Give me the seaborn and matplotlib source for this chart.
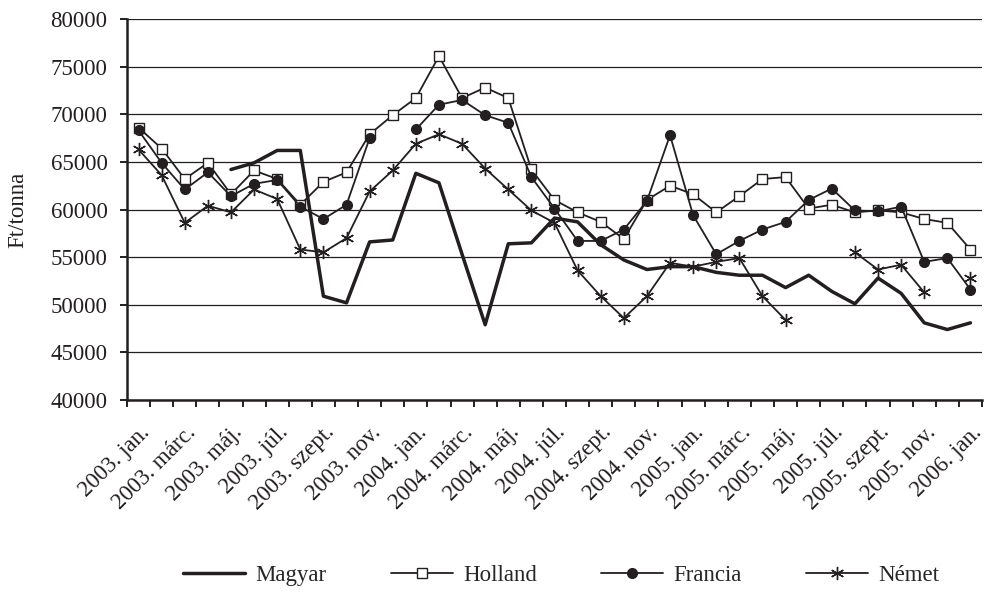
import numpy as np
import pandas as pd
import matplotlib
matplotlib.use("Agg")
import matplotlib.pyplot as plt
import matplotlib.transforms as mtransforms
from matplotlib.lines import Line2D
import seaborn as sns

nan = np.nan

# 37 months: 2003. jan. ... 2006. jan.
months = ["2003. jan.", "2003. febr.", "2003. márc.", "2003. ápr.", "2003. máj.", "2003. jún.",
          "2003. júl.", "2003. aug.", "2003. szept.", "2003. okt.", "2003. nov.", "2003. dec.",
          "2004. jan.", "2004. febr.", "2004. márc.", "2004. ápr.", "2004. máj.", "2004. jún.",
          "2004. júl.", "2004. aug.", "2004. szept.", "2004. okt.", "2004. nov.", "2004. dec.",
          "2005. jan.", "2005. febr.", "2005. márc.", "2005. ápr.", "2005. máj.", "2005. jún.",
          "2005. júl.", "2005. aug.", "2005. szept.", "2005. okt.", "2005. nov.", "2005. dec.",
          "2006. jan."]

magyar = [nan, nan, nan, nan, 64200, 64900, 66200, 66200, 50900, 50200, 56600, 56800,
          63800, 62800, 55300, 47900, 56400, 56500, 59100, 58700, 56300, 54700, 53700, 54000,
          54000, 53400, 53100, 53100, 51800, 53100, 51400, 50100, 52800, 51200, 48100, 47400,
          48100]
holland = [68600, 66400, 63200, 64900, 61600, 64100, 63200, 60500, 62900, 63900, 67900, 69900,
           71700, 76100, 71700, 72800, 71700, 64200, 61000, 59700, 58700, 56900, 61000, 62500,
           61600, 59700, 61400, 63200, 63400, 60100, 60500, 59700, 59900, 59700, 59000, 58600,
           55800]
francia = [68300, 64900, 62100, 63900, 61400, 62700, 63100, 60300, 59000, 60500, 67500, nan,
           68400, 71000, 71500, 69900, 69100, 63400, 60100, 56700, 56700, 57900, 60900, 67800,
           59400, 55300, 56700, 57900, 58700, 61000, 62200, 59900, 59800, 60300, 54500, 54900,
           51600]
nemet = [66300, 63600, 58600, 60400, 59700, 62100, 61100, 55800, 55500, 57000, 61900, 64100,
         66900, 67900, 66900, 64300, 62100, 59900, 58600, 53600, 50900, 48600, 50900, 54400,
         54000, 54500, 54900, 50900, 48400, nan, nan, 55500, 53700, 54200, 51300, nan,
         52800]

series_names = ["Magyar", "Holland", "Francia", "Német"]
series_values = [magyar, holland, francia, nemet]

rows = []
for name, vals in zip(series_names, series_values):
    seg = 0
    prev_nan = True
    for i, v in enumerate(vals):
        if np.isnan(v):
            prev_nan = True
            continue
        if prev_nan:
            seg += 1
            prev_nan = False
        rows.append({"x": i, "value": v, "series": name, "seg": seg})
df = pd.DataFrame(rows)

sns.set_style("ticks")
plt.rcParams["font.family"] = ["Liberation Serif", "DejaVu Serif"]
FS = 16.5
plt.rcParams["font.size"] = FS

ink = "#231f20"
styles = {
    "Magyar": dict(lw=2.5, marker=None),
    "Holland": dict(lw=1.3, marker="s", ms=7.2, mfc="white", mec=ink, mew=1.0),
    "Francia": dict(lw=1.3, marker="o", ms=7.0, mfc=ink, mec=ink, mew=1.0),
    "Német": dict(lw=1.3, marker=(6, 2, 0), ms=9.5, mfc=ink, mec=ink, mew=1.0),
}

fig = plt.figure(figsize=(9.95, 5.98), dpi=100)
ax = fig.add_axes([127 / 995, 1 - 400 / 598, (982 - 127) / 995, (400 - 19) / 598])

handles = []
for name in series_names:
    sub = df[df["series"] == name]
    st = styles[name]
    kws = dict(linewidth=st["lw"])
    if st["marker"] is not None:
        kws.update(marker=st["marker"], markersize=st["ms"], markerfacecolor=st["mfc"],
                   markeredgecolor=st["mec"], markeredgewidth=st["mew"])
    sns.lineplot(data=sub, x="x", y="value", units="seg", estimator=None, color=ink,
                 ax=ax, legend=False, sort=True, **kws)
    handles.append(Line2D([0], [0], color=ink, **kws))

ax.set_xlim(-0.5, 36.5)
ax.set_ylim(40000, 80000)
ax.set_yticks(np.arange(40000, 80001, 5000))
ax.set_yticklabels([f"{v:d}" for v in range(40000, 80001, 5000)])
ax.yaxis.grid(True, color=ink, linewidth=0.9)
ax.set_axisbelow(True)

ax.set_xticks(np.arange(-0.5, 37, 1))
ax.set_xticklabels([])
ax.tick_params(axis="x", which="major", length=5, width=1.4, color=ink, direction="out")
ax.set_xticks(np.arange(0, 37, 2), minor=True)
ax.set_xticklabels(months[::2], minor=True, rotation=45, ha="right", va="center",
                   rotation_mode="anchor")
ax.tick_params(axis="x", which="minor", length=0, pad=21, labelsize=FS, colors=ink)
offset = mtransforms.ScaledTranslation(8 / 100, 0, fig.dpi_scale_trans)
for lab in ax.get_xticklabels(minor=True):
    lab.set_transform(lab.get_transform() + offset)

ax.tick_params(axis="y", length=5, width=1.4, color=ink, direction="out", labelsize=FS,
               labelcolor=ink, pad=9)
ax.set_xlabel("")
ax.set_ylabel("Ft/tonna", fontsize=FS, color=ink)
ax.yaxis.set_label_coords(-0.116, 0.5)

for s in ["top", "right"]:
    ax.spines[s].set_visible(False)
for s in ["left", "bottom"]:
    ax.spines[s].set_color(ink)
    ax.spines[s].set_linewidth(1.8)

fig.legend(handles, series_names, loc="center", bbox_to_anchor=(561 / 995, 1 - 575 / 598),
           ncol=4, frameon=False, handlelength=2.7, columnspacing=2.8, handletextpad=0.45,
           fontsize=FS)

fig.savefig("out.png", dpi=100)
